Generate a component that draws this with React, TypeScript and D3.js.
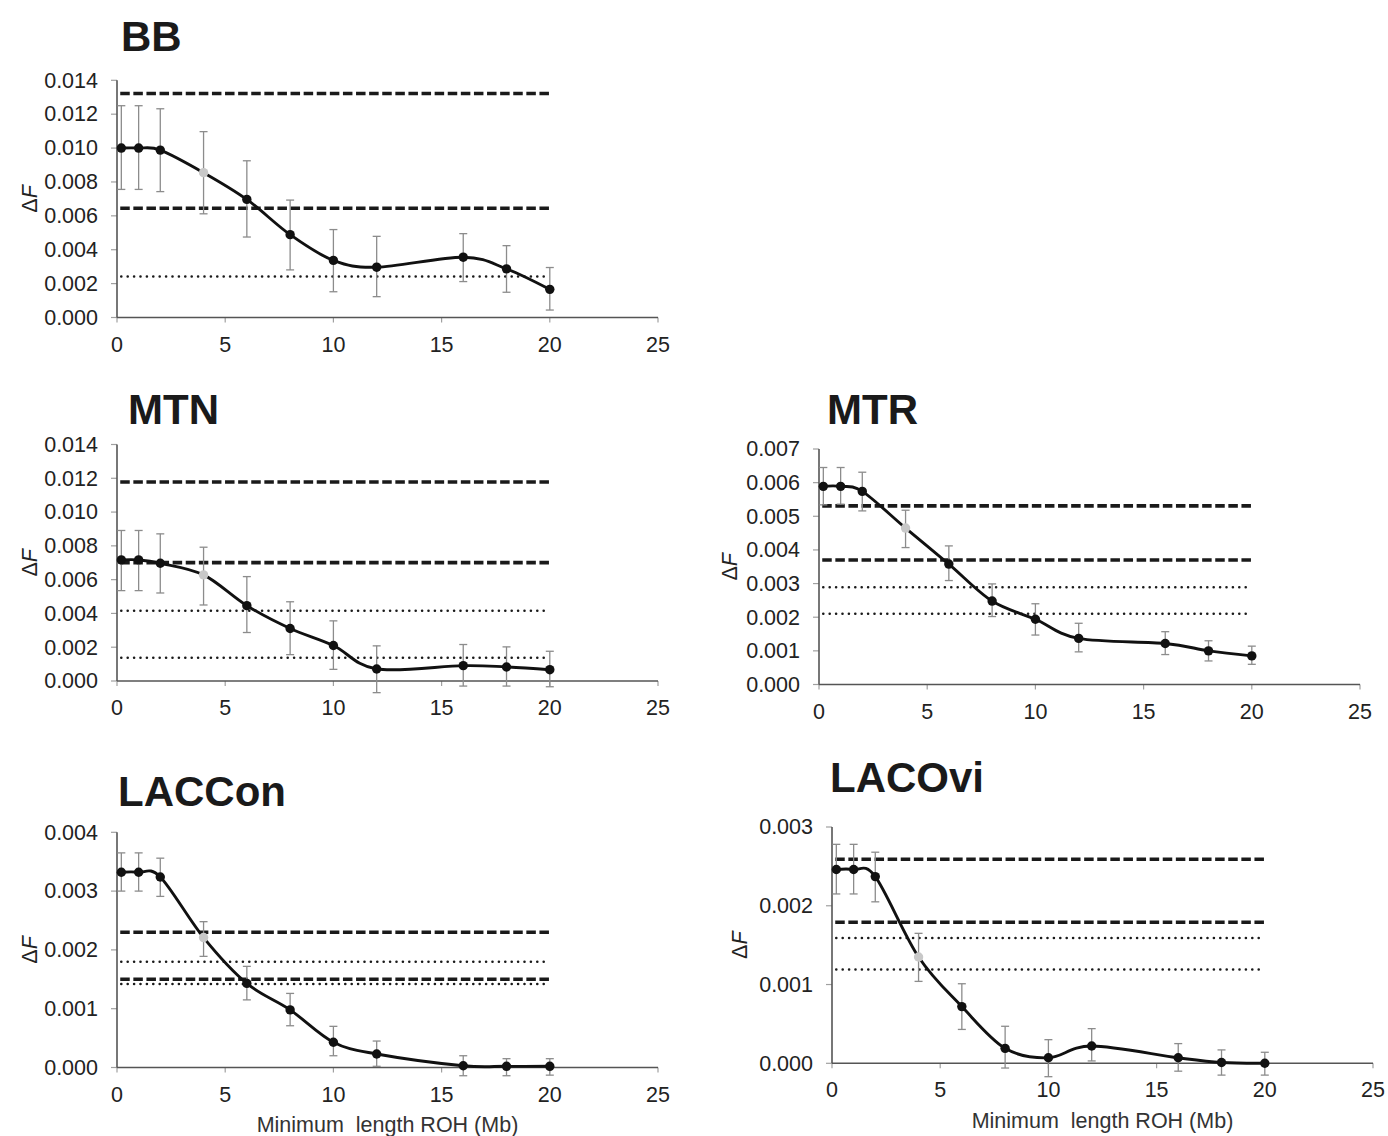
import React from "react";
import * as d3 from "d3";

// ---------- DATA ----------
const xValues = [0.2, 1, 2, 4, 6, 8, 10, 12, 16, 18, 20];
const xTicks = [0, 5, 10, 15, 20, 25];

const bbMean = [0.0100, 0.0100, 0.00988, 0.00855, 0.00697, 0.00489, 0.00337, 0.00297, 0.00356, 0.00287, 0.00166];
const bbLow = [0.00756, 0.00756, 0.00743, 0.00612, 0.00475, 0.00281, 0.00152, 0.00123, 0.00212, 0.00149, 0.00044];
const bbHigh = [0.0125, 0.0125, 0.01232, 0.01097, 0.00925, 0.00693, 0.00519, 0.00479, 0.00495, 0.00424, 0.00295];
const bbDashed = [0.01322, 0.00645];
const bbDotted = [0.00242];
const bbTicks = [0, 0.002, 0.004, 0.006, 0.008, 0.01, 0.012, 0.014];

const mtnMean = [0.00717, 0.00717, 0.00697, 0.00628, 0.00446, 0.00311, 0.0021, 0.00071, 0.00091, 0.00083, 0.00067];
const mtnLow = [0.00535, 0.00535, 0.00521, 0.0045, 0.00287, 0.00156, 0.00069, -0.00069, -0.0003, -0.0003, -0.00034];
const mtnHigh = [0.00891, 0.00891, 0.00871, 0.00792, 0.00618, 0.00469, 0.00356, 0.00208, 0.00216, 0.00202, 0.00176];
const mtnDashed = [0.01178, 0.00701];
const mtnDotted = [0.00416, 0.00137];
const mtnTicks = [0, 0.002, 0.004, 0.006, 0.008, 0.01, 0.012, 0.014];

const mtrMean = [0.00589, 0.00589, 0.00574, 0.00465, 0.00358, 0.00248, 0.00194, 0.00137, 0.00122, 0.001, 0.00085];
const mtrLow = [0.00534, 0.00536, 0.00516, 0.00407, 0.00309, 0.00202, 0.00147, 0.00097, 0.00089, 0.0007, 0.0006];
const mtrHigh = [0.00645, 0.00645, 0.00631, 0.00518, 0.00412, 0.00299, 0.0024, 0.00182, 0.00157, 0.0013, 0.00114];
const mtrDashed = [0.00531, 0.0037];
const mtrDotted = [0.00289, 0.0021];
const mtrTicks = [0, 0.001, 0.002, 0.003, 0.004, 0.005, 0.006, 0.007];

const lacconMean = [0.00332, 0.00332, 0.00324, 0.00221, 0.00143, 0.00098, 0.00043, 0.00023, 0.00003, 0.00002, 0.00002];
const lacconLow = [0.003, 0.003, 0.00291, 0.00189, 0.00115, 0.00071, 0.0002, 0.00002, -0.00014, -0.00014, -0.00013];
const lacconHigh = [0.00365, 0.00365, 0.00356, 0.00248, 0.00172, 0.00126, 0.0007, 0.00045, 0.0002, 0.00015, 0.00015];
const lacconDashed = [0.0023, 0.0015];
const lacconDotted = [0.0018, 0.00142];
const lacconTicks = [0, 0.001, 0.002, 0.003, 0.004];

const lacoviMean = [0.00246, 0.00246, 0.00237, 0.00135, 0.00072, 0.00019, 0.00007, 0.00022, 0.00007, 0.00001, 0.0];
const lacoviLow = [0.00215, 0.00215, 0.00205, 0.00104, 0.00043, -0.00006, -0.00017, 0.00003, -0.0001, -0.00015, -0.00015];
const lacoviHigh = [0.00278, 0.00278, 0.00268, 0.00165, 0.00101, 0.00047, 0.0003, 0.00044, 0.00025, 0.00017, 0.00014];
const lacoviDashed = [0.00259, 0.00179];
const lacoviDotted = [0.00159, 0.00119];
const lacoviTicks = [0, 0.001, 0.002, 0.003];

const highlightX = 4; // grey marker
const refStart = 0.15;
const refEnd = 20;
const xLabel = "Minimum  length ROH (Mb)";

// ---------- LAYOUT ----------
const FONT = "'Liberation Sans', Arial, Helvetica, sans-serif";

type PanelCfg = {
  title: string;
  titleX: number;
  titleY: number;
  left: number;
  top: number;
  bottom: number;
  mean: number[];
  low: number[];
  high: number[];
  dashed: number[];
  dotted: number[];
  ticks: number[];
  yLabelX: number;
  showXLabel: boolean;
  xLabelY: number;
};

const panels: PanelCfg[] = [
  { title: "BB", titleX: 121, titleY: 51, left: 117, top: 80.3, bottom: 317.5, mean: bbMean, low: bbLow, high: bbHigh, dashed: bbDashed, dotted: bbDotted, ticks: bbTicks, yLabelX: 30, showXLabel: false, xLabelY: 0 },
  { title: "MTN", titleX: 128, titleY: 424, left: 117, top: 444.5, bottom: 681, mean: mtnMean, low: mtnLow, high: mtnHigh, dashed: mtnDashed, dotted: mtnDotted, ticks: mtnTicks, yLabelX: 30, showXLabel: false, xLabelY: 0 },
  { title: "MTR", titleX: 827, titleY: 424, left: 819, top: 449, bottom: 684.5, mean: mtrMean, low: mtrLow, high: mtrHigh, dashed: mtrDashed, dotted: mtrDotted, ticks: mtrTicks, yLabelX: 730, showXLabel: false, xLabelY: 0 },
  { title: "LACCon", titleX: 118, titleY: 806, left: 117, top: 832.3, bottom: 1067.5, mean: lacconMean, low: lacconLow, high: lacconHigh, dashed: lacconDashed, dotted: lacconDotted, ticks: lacconTicks, yLabelX: 30, showXLabel: true, xLabelY: 1132 },
  { title: "LACOvi", titleX: 830, titleY: 792, left: 832, top: 827, bottom: 1063.3, mean: lacoviMean, low: lacoviLow, high: lacoviHigh, dashed: lacoviDashed, dotted: lacoviDotted, ticks: lacoviTicks, yLabelX: 740, showXLabel: true, xLabelY: 1128 },
];

const PLOT_W = 541;

function Panel({ p }: { p: PanelCfg }) {
  const x = d3.scaleLinear().domain([0, 25]).range([p.left, p.left + PLOT_W]);
  const yMax = p.ticks[p.ticks.length - 1];
  const y = d3.scaleLinear().domain([0, yMax]).range([p.bottom, p.top]);
  const fmt = d3.format(".3f");
  const pts = xValues.map((xv, i) => [xv, p.mean[i]] as [number, number]);
  const line = d3
    .line<[number, number]>()
    .x((d) => x(d[0]))
    .y((d) => y(d[1]))
    .curve(d3.curveCardinal.tension(0));
  const axisColor = "#555";
  const tickColor = "#a0a0a0";
  const textColor = "#222";
  return (
    <g>
      <text x={p.titleX} y={p.titleY} fontFamily={FONT} fontWeight="bold" fontSize={42} fill="#1a1a1a">
        {p.title}
      </text>
      {/* y ticks */}
      {p.ticks.map((t) => (
        <g key={"yt" + t}>
          <line x1={p.left - 6} x2={p.left} y1={y(t)} y2={y(t)} stroke={tickColor} strokeWidth={1.2} />
          <text x={p.left - 19} y={y(t) + 7.3} textAnchor="end" fontFamily={FONT} fontSize={21.5} fill={textColor}>
            {fmt(t)}
          </text>
        </g>
      ))}
      {/* x ticks */}
      {xTicks.map((t) => (
        <g key={"xt" + t}>
          <line x1={x(t)} x2={x(t)} y1={p.bottom} y2={p.bottom + 5} stroke={tickColor} strokeWidth={1.2} />
          <text x={x(t)} y={p.bottom + 34} textAnchor="middle" fontFamily={FONT} fontSize={21.5} fill={textColor}>
            {t}
          </text>
        </g>
      ))}
      {/* axes */}
      <line x1={p.left} x2={p.left} y1={p.top} y2={p.bottom} stroke={axisColor} strokeWidth={1.6} />
      <line x1={p.left} x2={p.left + PLOT_W} y1={p.bottom} y2={p.bottom} stroke={axisColor} strokeWidth={1.6} />
      {/* y label */}
      <text
        transform={`translate(${p.yLabelX + 7},${(p.top + p.bottom) / 2}) rotate(-90)`}
        textAnchor="middle"
        fontFamily={FONT}
        fontSize={21.5}
        fill={textColor}
      >
        Δ<tspan fontStyle="italic">F</tspan>
      </text>
      {p.showXLabel && (
        <text
          x={x(12.5)}
          y={p.xLabelY}
          textAnchor="middle"
          fontFamily={FONT}
          fontSize={21.5}
          fill="#333"
          style={{ whiteSpace: "pre" }}
        >
          {xLabel}
        </text>
      )}
      {/* reference lines */}
      {p.dashed.map((v, i) => (
        <line key={"da" + i} x1={x(refStart)} x2={x(refEnd)} y1={y(v)} y2={y(v)} stroke="#1a1a1a" strokeWidth={3.6} strokeDasharray="9.5 3.6" />
      ))}
      {p.dotted.map((v, i) => (
        <line key={"do" + i} x1={x(refStart) + 1} x2={x(refEnd) - 3} y1={y(v)} y2={y(v)} stroke="#1a1a1a" strokeWidth={2.5} strokeLinecap="round" strokeDasharray="0.1 6.3" />
      ))}
      {/* error bars */}
      {xValues.map((xv, i) => (
        <g key={"eb" + i} stroke="#8c8c8c" strokeWidth={1.3}>
          <line x1={x(xv)} x2={x(xv)} y1={y(p.low[i])} y2={y(p.high[i])} />
          <line x1={x(xv) - 4} x2={x(xv) + 4} y1={y(p.low[i])} y2={y(p.low[i])} />
          <line x1={x(xv) - 4} x2={x(xv) + 4} y1={y(p.high[i])} y2={y(p.high[i])} />
        </g>
      ))}
      {/* line */}
      <path d={line(pts) || ""} fill="none" stroke="#111" strokeWidth={2.9} />
      {/* points */}
      {pts.map((d, i) => (
        <circle key={"pt" + i} cx={x(d[0])} cy={y(d[1])} r={4.7} fill={d[0] === highlightX ? "#c8c8c8" : "#111"} />
      ))}
    </g>
  );
}

export default function App() {
  return (
    <div style={{ position: "absolute", left: 0, top: 0, width: 1388, height: 1136, background: "#fff" }}>
      <svg width={1388} height={1136} viewBox="0 0 1388 1136" style={{ display: "block" }}>
        <rect x={0} y={0} width={1388} height={1136} fill="#fff" />
        {panels.map((p) => (
          <Panel key={p.title} p={p} />
        ))}
      </svg>
    </div>
  );
}
